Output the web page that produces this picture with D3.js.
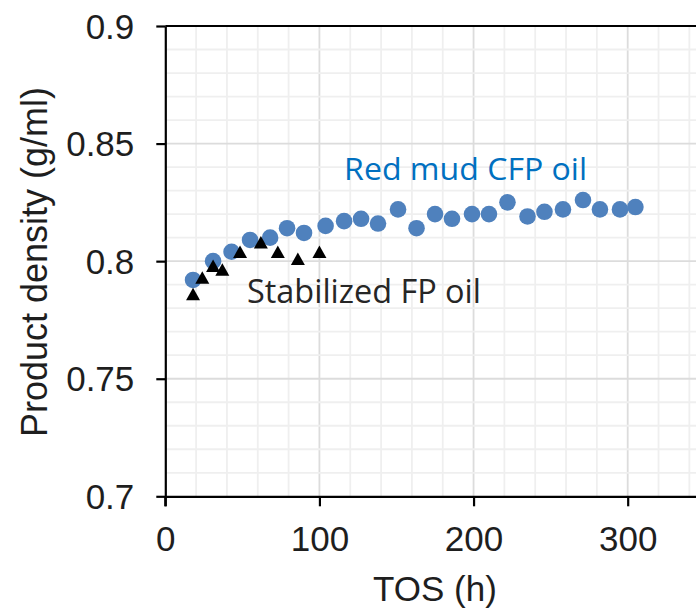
<!DOCTYPE html>
<html>
<head>
<meta charset="utf-8">
<script src="https://cdn.jsdelivr.net/npm/d3@7"></script>
<style>
  html, body { margin: 0; padding: 0; background: #fff; }
  svg { display: block; }
</style>
</head>
<body>
<svg id="chart" width="696" height="610"></svg>
<script>
// TOS (h) and product density (g/ml) for the red mud catalytic fast pyrolysis oil
const cfpTos = [18, 31, 43, 55, 68, 79, 90, 104, 116, 127, 138, 151, 163, 175, 186, 199, 210, 222, 235, 246, 258, 271, 282, 295, 305];
const cfpDensity = [0.792, 0.800, 0.804, 0.809, 0.810, 0.814, 0.812, 0.815, 0.817, 0.818, 0.816, 0.822, 0.814, 0.820, 0.818, 0.820, 0.820, 0.825, 0.819, 0.821, 0.822, 0.826, 0.822, 0.822, 0.823];

// TOS (h) and product density (g/ml) for the stabilized fast pyrolysis oil
const fpTos = [18, 24, 31, 37, 48.5, 62, 73, 86, 100];
const fpDensity = [0.786, 0.793, 0.798, 0.7965, 0.804, 0.808, 0.804, 0.801, 0.804];

const xTicks = [0, 100, 200, 300];
const yTicks = [0.7, 0.75, 0.8, 0.85, 0.9];

const svg = d3.select("#chart");

const x = d3.scaleLinear().domain([0, 400]).range([165.3, 165.3 + 400 * 1.5413]);
const y = d3.scaleLinear().domain([0.7, 0.9]).range([496.3, 26]);

const [x0, x1] = x.range();
const [yBottom, yTop] = y.range();

// grid: light lines every 20 h / 0.01 g/ml, darker ones on the labelled ticks
const gx = d3.range(20, 401, 20);
const gy = d3.range(0.71, 0.8999, 0.01);
const isMajorX = v => Math.abs(v % 100) < 1e-6;
const isMajorY = v => Math.abs(Math.round(v * 100) % 5) === 0;

const grid = svg.append("g");
grid.selectAll("line.gx").data(gx).join("line")
  .attr("x1", d => x(d)).attr("x2", d => x(d))
  .attr("y1", yTop).attr("y2", yBottom)
  .attr("stroke", d => isMajorX(d) ? "#dcdcdc" : "#efefef")
  .attr("stroke-width", 1.8);
grid.selectAll("line.gy").data(gy).join("line")
  .attr("x1", x0).attr("x2", x1)
  .attr("y1", d => y(d)).attr("y2", d => y(d))
  .attr("stroke", d => isMajorY(d) ? "#dcdcdc" : "#efefef")
  .attr("stroke-width", 1.8);

// top frame line
svg.append("line")
  .attr("x1", x0).attr("x2", x1)
  .attr("y1", yTop).attr("y2", yTop)
  .attr("stroke", "#000").attr("stroke-width", 2.2);

// axes
const axisFont = "'Liberation Sans', Arial, sans-serif";

const xAxis = svg.append("g")
  .attr("transform", `translate(0,${yBottom})`)
  .call(d3.axisBottom(x).tickValues(xTicks).tickFormat(d3.format("d")).tickSizeInner(10).tickSizeOuter(0).tickPadding(20));
xAxis.select(".domain").attr("stroke", "#000").attr("stroke-width", 2.2);
xAxis.selectAll(".tick line").attr("stroke", "#000").attr("stroke-width", 2.2);
xAxis.selectAll(".tick text")
  .attr("font-family", axisFont).attr("font-size", 35).attr("fill", "#1e1e1e");

const yAxis = svg.append("g")
  .attr("transform", `translate(${x0},0)`)
  .call(d3.axisLeft(y).tickValues(yTicks).tickFormat(d => String(+d.toFixed(2))).tickSizeInner(9).tickSizeOuter(0).tickPadding(22));
yAxis.select(".domain").attr("stroke", "#000").attr("stroke-width", 2.2);
yAxis.selectAll(".tick line").attr("stroke", "#000").attr("stroke-width", 2.2);
yAxis.selectAll(".tick text")
  .attr("font-family", axisFont).attr("font-size", 35).attr("fill", "#1e1e1e")
  .attr("dy", "0.35em");

// extend the left axis down through the x-axis line
svg.append("line")
  .attr("x1", x0).attr("x2", x0)
  .attr("y1", yBottom).attr("y2", yBottom + 10)
  .attr("stroke", "#000").attr("stroke-width", 2.2);

// axis titles
svg.append("text")
  .attr("x", 435).attr("y", 601)
  .attr("text-anchor", "middle")
  .attr("font-family", axisFont).attr("font-size", 35).attr("fill", "#1e1e1e")
  .text("TOS (h)");

svg.append("text")
  .attr("transform", "translate(47,262) rotate(-90)")
  .attr("text-anchor", "middle")
  .attr("font-family", axisFont).attr("font-size", 36).attr("fill", "#1e1e1e")
  .text("Product density (g/ml)");

// series: red mud CFP oil (circles)
svg.append("g").selectAll("circle")
  .data(cfpTos.map((t, i) => [t, cfpDensity[i]]))
  .join("circle")
  .attr("cx", d => x(d[0])).attr("cy", d => y(d[1]))
  .attr("r", 8.3)
  .attr("fill", "#4f81bd");

// series: stabilized FP oil (triangles centred on their bounding box)
const triW = 14, triH = 12.5;
const triPath = `M0,${-triH / 2}L${triW / 2},${triH / 2}L${-triW / 2},${triH / 2}Z`;
svg.append("g").selectAll("path")
  .data(fpTos.map((t, i) => [t, fpDensity[i]]))
  .join("path")
  .attr("transform", d => `translate(${x(d[0])},${y(d[1])})`)
  .attr("d", triPath)
  .attr("fill", "#000");

// series labels
const labelFont = "'Open Sans', 'Noto Sans', sans-serif";
svg.append("text")
  .attr("x", x(116)).attr("y", y(0.8345))
  .attr("font-family", labelFont).attr("font-size", 31).attr("fill", "#0070c0")
  .attr("textLength", 243).attr("lengthAdjust", "spacingAndGlyphs")
  .text("Red mud CFP oil");

svg.append("text")
  .attr("x", x(53)).attr("y", y(0.7822))
  .attr("font-family", labelFont).attr("font-size", 32).attr("fill", "#262626")
  .attr("textLength", 234).attr("lengthAdjust", "spacingAndGlyphs")
  .text("Stabilized FP oil");
</script>
</body>
</html>
